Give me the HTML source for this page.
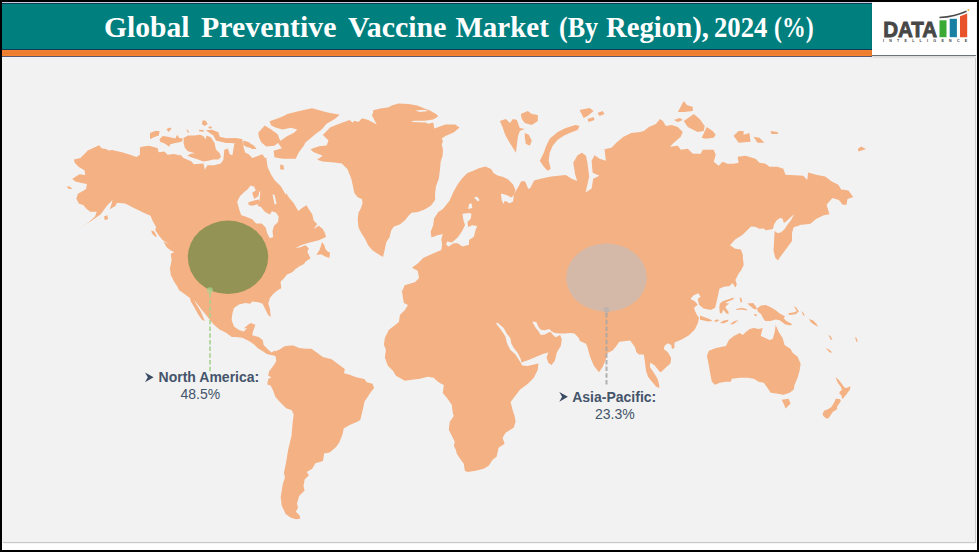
<!DOCTYPE html>
<html><head><meta charset="utf-8">
<style>
html,body{margin:0;padding:0;}
body{width:979px;height:552px;background:#000;position:relative;overflow:hidden;font-family:"Liberation Sans",sans-serif;}
#inner{position:absolute;left:2px;top:2px;width:975px;height:548px;background:#fff;}
#panel{position:absolute;left:2px;top:57px;width:973px;height:485px;background:#f2f2f2;box-shadow:1px 1px 1px #c8c8c8;}
#hdr{position:absolute;left:2px;top:3px;width:870px;height:47px;background:#007f7f;border-top:1px solid #0b3d5a;border-bottom:1px solid #0b3d5a;box-sizing:border-box;}
#stripe{position:absolute;left:2px;top:50px;width:870px;height:7px;background:linear-gradient(#f28232,#ec7d30 60%,#f9852e);border-bottom:1px solid #5a5a78;box-sizing:border-box;}
.tw{transform-origin:0 0;position:absolute;top:9.6px;font-family:"Liberation Serif",serif;font-weight:bold;font-size:29px;color:#fff;white-space:nowrap;line-height:34px;}
#logo{position:absolute;left:872px;top:2px;width:104px;height:54px;background:#fff;border-bottom:1px solid #6d747c;box-sizing:border-box;box-shadow:0 1px 2px rgba(0,0,0,0.2);}
svg{position:absolute;left:0;top:0;}
.lbl{position:absolute;color:#44546a;font-size:14px;line-height:16px;white-space:nowrap;}
.lbl b{font-weight:bold;}
</style></head><body>
<div id="inner"></div>
<div id="panel"></div>
<div style="position:absolute;left:2px;top:2px;width:870px;height:1px;background:#c9c9dc"></div>
<div id="hdr"></div>
<div id="stripe"></div>
<div class="tw" style="left:103.8px;transform:scaleX(1.02)">Global</div><div class="tw" style="left:201.4px;transform:scaleX(1.03)">Preventive</div><div class="tw" style="left:347.5px;transform:scaleX(1.03)">Vaccine</div><div class="tw" style="left:455.4px;transform:scaleX(1.0)">Market</div><div class="tw" style="left:559px;transform:scaleX(0.9)">(By</div><div class="tw" style="left:605.7px;transform:scaleX(0.99)">Region),</div><div class="tw" style="left:713.8px;transform:scaleX(0.92)">2024</div><div class="tw" style="left:774.3px;transform:scaleX(0.82)">(%)</div>
<div id="logo"></div>
<svg width="979" height="552" viewBox="0 0 979 552" style="position:absolute;left:0;top:0">
<text x="883.2" y="37.1" font-family="Liberation Sans" font-weight="bold" font-size="22" fill="#474747" stroke="#474747" stroke-width="0.9" textLength="54" lengthAdjust="spacingAndGlyphs">DATA</text>
<rect x="939.5" y="20.3" width="7" height="16.9" fill="#3aaa35"/>
<rect x="949.7" y="18.8" width="7.2" height="18.4" fill="#1a80a3"/>
<path d="M960,16.2 L967.2,13.4 L967.2,37.2 L960,37.2Z" fill="#e9532b"/>
<path d="M939.5,17.6 Q955,16.5 966.5,11.2" stroke="#4a4a4a" stroke-width="1.5" fill="none"/>
<circle cx="968.4" cy="9.9" r="1" fill="#f5b041"/>
<text x="882.9" y="42.4" font-family="Liberation Sans" font-weight="bold" font-size="3.6" fill="#404040" textLength="84.3" lengthAdjust="spacing">INTELLIGENCE</text>
</svg>

<svg id="map" width="979" height="552" viewBox="0 0 979 552">
<g fill="#f4b183" id="land">
<path d="M79.6,228.0 88.5,222.3 95.1,216.6 96.7,211.7 90.2,211.7 86.1,208.5 83.6,205.2 78.8,203.6 76.3,198.7 77.9,193.8 82.0,191.4 86.1,188.9 86.9,184.0 82.8,183.2 75.5,181.6 72.2,179.1 75.5,176.7 79.6,174.2 85.3,175.1 84.5,170.2 78.8,166.9 74.7,162.8 73.9,159.6 80.4,157.9 84.5,153.9 87.7,150.6 92.6,148.2 99.1,145.2 101.6,148.2 105.7,149.0 108.9,150.6 112.2,150.1 116.3,151.1 122.0,152.2 130.1,154.7 136.6,157.1 139.9,154.7 139.9,147.3 144.8,146.2 148.9,145.7 154.6,147.3 157.8,148.2 158.6,152.2 164.4,151.4 167.6,154.7 174.1,153.9 180.0,155.5 179.9,154.3 183.5,157.9 191.7,161.6 193.5,164.3 203.5,163.4 204.9,169.7 207.4,165.2 214.3,165.2 220.7,163.4 223.4,159.8 224.3,149.8 227.9,148.5 229.7,154.3 232.4,155.2 234.2,144.4 239.7,139.8 242.4,139.8 243.3,146.2 245.1,152.5 248.7,154.3 252.3,157.9 257.8,156.1 262.3,154.3 265.0,157.9 267.7,157.9 259.8,155.2 266.3,157.5 267.6,167.0 270.9,174.3 274.5,180.0 281.0,186.5 285.9,195.0 286.1,193.0 289.3,197.9 293.4,202.8 298.3,211.0 302.4,207.7 306.5,205.3 308.9,209.3 312.2,214.2 313.8,220.8 317.1,224.0 313.8,228.9 318.7,225.7 322.8,228.9 325.2,233.8 326.0,237.1 318.7,240.3 308.9,242.8 300.8,245.2 295.1,248.5 300.8,246.9 305.7,245.2 308.9,248.5 307.3,251.7 308.9,255.0 310.5,258.3 305.7,261.5 304.0,264.0 299.1,266.4 294.2,270.0 294.4,270.4 291.1,272.8 287.0,274.5 283.8,278.5 280.5,281.8 281.3,288.3 278.0,289.9 273.2,294.0 269.9,298.1 268.3,303.8 269.9,308.7 270.7,316.9 268.3,315.2 265.8,310.3 262.6,303.8 258.5,302.2 252.0,301.4 250.3,303.8 245.4,303.0 238.9,304.6 234.0,307.9 232.4,313.6 231.6,320.1 234.0,326.6 238.9,329.9 243.8,331.5 247.1,328.3 244.0,328.3 248.1,324.7 250.5,323.0 255.4,324.7 253.0,331.2 252.2,335.3 258.7,336.9 262.8,340.2 263.6,345.1 268.5,349.9 271.7,352.4 274.2,350.8 275.5,351.2 279.6,349.6 284.5,346.3 290.2,345.5 293.4,345.5 299.1,347.9 306.5,348.8 311.4,348.8 317.1,352.8 322.8,356.9 331.7,359.3 338.3,364.2 344.8,369.1 344.0,373.2 349.7,374.8 356.2,377.3 364.4,378.9 366.8,382.2 372.5,383.8 374.1,387.9 370.9,392.0 367.6,396.9 364.4,401.7 363.5,406.6 361.9,413.2 360.3,420.0 356.7,422.0 349.1,425.2 343.7,428.5 342.6,433.9 339.3,442.6 336.1,447.0 329.6,452.4 324.1,453.5 323.0,461.1 315.4,463.3 312.2,468.7 306.7,472.0 308.9,475.2 304.6,479.6 303.5,486.1 304.6,490.4 299.1,495.9 297.0,503.5 298.0,507.8 295.9,511.7 299.6,515.4 300.2,518.7 295.9,519.3 290.4,517.6 285.7,513.9 281.7,505.7 280.7,497.0 282.8,483.9 285.0,477.4 283.9,473.0 286.1,462.2 288.3,449.1 291.5,436.1 292.6,423.0 293.7,414.3 291.5,410.0 286.1,408.3 279.6,401.7 275.5,396.9 273.0,390.3 270.6,385.4 267.3,384.6 268.2,378.9 271.4,377.3 268.2,375.7 269.0,371.6 273.9,365.1 276.3,361.0 275.5,356.1 270.1,354.8 266.9,354.0 262.0,350.8 257.9,348.3 253.8,344.2 248.9,341.0 242.4,337.7 235.9,336.9 231.8,336.9 226.1,332.8 219.6,329.6 213.9,324.7 209.8,319.8 204.9,313.3 202.4,310.0 207.9,318.5 203.9,312.8 199.0,306.3 194.1,299.7 196.5,304.6 200.6,311.1 204.7,320.9 202.2,320.1 198.2,314.4 194.1,307.1 190.8,301.4 190.0,298.1 178.9,290.0 177.3,286.4 174.0,281.5 170.8,275.0 169.9,268.5 171.6,260.3 170.8,253.8 174.0,252.2 172.4,247.3 167.5,243.2 162.6,239.9 158.5,235.1 155.3,230.2 156.1,226.9 152.8,221.2 150.5,215.8 143.2,212.6 133.4,207.7 125.2,203.6 117.1,202.8 115.4,206.0 109.7,209.3 111.4,204.4 112.5,200.0 107.3,205.2 100.8,214.2 92.6,219.9ZM322.8,134.9 330.4,127.3 339.9,123.5 349.8,120.1 352.3,122.5 354.7,120.7 358.4,121.9 362.1,118.2 368.2,120.1 373.1,122.5 376.8,124.4 374.3,120.1 371.9,115.2 373.1,112.7 373.1,110.3 380.5,108.4 389.0,107.2 391.5,105.4 398.8,103.5 408.6,104.1 417.2,105.4 425.8,109.0 429.5,110.3 436.8,114.5 438.1,116.4 433.2,119.5 424.6,120.7 413.5,120.7 411.1,121.9 425.8,122.5 428.3,123.7 433.2,122.5 434.4,128.6 445.4,124.4 455.2,124.4 459.5,127.4 454.0,132.3 445.4,136.0 441.7,138.5 443.0,140.9 441.7,144.6 443.0,149.5 442.6,155.8 440.7,161.6 439.8,171.1 438.8,178.7 436.0,186.3 435.0,193.9 435.2,199.8 431.1,205.5 424.6,209.6 418.0,212.0 411.5,212.8 408.3,216.1 405.0,220.2 400.1,224.2 393.6,226.7 391.1,230.8 389.5,237.3 386.3,242.2 384.6,250.3 383.0,256.9 377.3,253.6 372.4,250.3 368.3,245.4 365.1,238.9 361.0,232.4 358.5,227.5 357.7,219.3 358.5,212.8 361.0,207.9 362.6,203.0 361.8,199.0 357.7,197.3 354.5,193.3 354.2,192.0 351.3,178.7 347.5,169.2 341.8,163.5 334.2,162.5 322.8,161.6 317.1,159.7 322.8,155.8 313.3,152.0 310.5,149.2 319.0,146.3 326.6,145.4 328.5,140.6 324.7,136.8ZM565.7,175.1 571.7,178.7 577.2,181.1 575.2,174.7 573.2,162.7 577.6,155.2 582.0,152.8 586.0,155.8 587.6,163.7 589.2,176.7 585.6,192.6 591.6,188.6 593.2,178.7 599.5,175.7 592.6,172.7 591.6,160.8 594.6,155.2 599.5,158.8 605.9,160.8 604.5,149.2 611.5,147.8 616.5,142.4 623.5,136.8 631.4,132.9 640.0,131.9 643.9,130.9 648.9,126.9 655.9,123.9 659.9,118.9 662.9,120.9 665.9,125.9 671.8,124.9 677.8,126.9 682.8,131.9 680.8,136.8 673.8,142.8 669.8,146.8 677.8,145.8 680.8,149.8 687.8,148.8 692.8,153.8 700.7,153.8 702.7,149.8 713.7,149.8 715.7,154.8 713.7,161.7 718.7,165.7 722.6,161.7 727.6,163.7 733.6,163.7 738.6,162.7 737.6,156.8 745.6,155.8 755.5,158.8 759.5,162.7 765.5,163.7 769.5,166.7 777.4,166.7 783.4,168.7 785.4,174.7 803.2,175.8 807.3,179.9 808.1,172.6 817.1,175.0 825.2,176.6 831.7,181.5 838.3,184.8 841.5,190.0 842.7,189.5 848.4,190.4 853.2,197.1 847.5,199.0 846.5,204.7 842.7,204.7 838.9,199.9 832.3,198.0 826.6,204.7 829.4,214.2 823.7,215.2 816.1,219.0 810.4,223.7 802.8,224.7 801.7,224.6 798.5,225.7 793.6,227.3 792.0,233.3 792.0,240.9 789.8,244.1 786.5,248.5 783.3,252.8 780.0,257.2 777.8,260.4 775.1,257.2 773.5,250.7 774.0,243.0 774.6,231.1 777.8,233.3 781.1,232.2 784.3,229.5 787.6,224.6 790.9,220.2 794.1,214.2 790.9,217.0 786.5,221.3 783.8,222.9 782.7,219.1 780.5,217.8 776.7,220.2 774.0,224.6 772.9,228.9 770.2,229.5 765.9,230.2 763.7,228.4 759.3,228.7 755.0,226.7 751.0,226.4 746.7,230.7 742.3,235.1 735.1,239.4 730.0,245.2 735.1,248.8 740.9,249.6 743.0,255.4 742.8,257.3 743.7,264.9 740.9,270.7 739.0,272.9 735.4,280.1 736.8,284.5 735.4,287.4 732.5,283.0 729.6,285.9 723.8,286.7 719.4,288.8 718.0,295.4 716.5,301.9 715.1,307.7 710.7,309.9 703.5,308.4 699.1,304.8 697.7,299.0 700.6,296.8 698.4,293.2 693.3,295.4 690.4,299.0 694.8,301.2 697.7,304.8 694.1,307.7 694.8,310.6 697.0,314.9 699.1,317.8 697.7,323.6 694.8,329.4 689.0,335.2 681.7,339.6 674.5,342.5 674.4,348.1 672.0,348.9 671.2,344.9 667.9,343.2 664.6,345.7 663.8,348.9 667.9,352.2 671.2,357.9 670.4,363.6 666.3,366.9 661.4,371.8 660.1,372.3 654.7,365.5 650.3,362.4 649.9,366.9 654.0,373.0 657.4,378.4 659.0,383.9 659.4,387.9 656.3,386.8 652.0,381.8 648.2,377.1 646.2,371.6 645.4,366.2 644.9,361.4 643.8,354.6 639.0,354.6 636.3,351.9 635.0,347.2 630.2,340.4 619.3,341.7 616.0,346.5 612.6,350.6 607.1,353.3 605.8,359.4 603.0,366.2 599.0,372.3 594.2,366.2 592.9,363.5 590.1,356.7 587.4,347.2 586.1,343.8 579.9,341.1 578.6,337.7 574.5,333.6 570.4,332.9 564.6,333.5 560.2,333.5 554.8,332.9 551.5,331.3 549.3,329.1 545.0,330.2 540.7,329.7 538.5,327.0 536.3,322.1 532.5,321.5 533.0,323.2 535.8,328.0 538.5,331.3 540.7,335.1 545.0,334.6 548.3,332.4 550.4,331.8 553.7,335.7 555.9,337.3 560.2,335.1 561.8,339.5 560.8,346.0 557.0,352.0 554.8,360.7 551.5,365.0 548.3,362.8 546.6,357.4 548.3,352.5 542.8,354.1 536.3,356.8 529.8,359.6 523.3,361.7 521.6,362.8 520.5,358.5 517.8,353.0 513.5,347.6 511.3,343.3 510.2,337.8 507.0,334.0 503.7,328.0 497.2,322.6 496.1,323.5 500.4,329.1 505.3,336.2 507.0,343.3 510.2,349.8 515.7,354.7 519.5,360.7 522.2,365.5 527.6,366.1 538.5,363.4 537.8,369.8 533.8,377.7 527.9,383.7 519.9,389.7 510.6,401.9 512.6,409.9 514.6,415.9 515.6,421.8 513.6,427.8 505.6,432.8 502.6,437.8 504.6,443.8 498.6,447.7 496.6,456.7 492.6,459.7 488.7,465.7 483.7,468.7 475.7,470.7 467.7,472.1 464.8,470.7 463.8,463.7 460.8,459.7 456.8,453.7 455.8,449.7 453.8,445.8 454.8,441.8 452.8,437.8 448.8,429.8 449.8,421.8 453.8,415.9 452.8,412.9 451.8,404.9 447.8,398.9 442.8,393.0 443.8,385.0 439.8,383.0 435.9,380.0 433.8,377.7 427.8,376.7 419.8,378.7 411.8,379.7 404.9,380.7 395.9,375.7 392.9,370.7 387.9,365.7 384.9,357.7 385.9,349.8 383.9,344.8 384.9,337.8 388.9,329.8 393.9,325.9 398.9,321.9 399.9,314.9 404.9,309.9 407.9,304.9 403.9,303.0 402.9,298.0 401.9,290.0 401.7,292.5 404.6,285.2 414.8,282.3 419.1,278.0 417.7,270.7 411.9,267.8 417.7,263.5 423.5,257.7 433.6,253.3 441.3,250.0 442.1,244.8 441.3,239.1 442.9,234.2 438.1,235.0 431.5,237.5 430.7,231.8 433.2,225.3 434.0,218.7 438.1,212.2 442.9,208.9 446.2,204.9 449.5,200.8 453.5,191.8 457.6,184.5 461.7,178.8 467.4,173.1 473.9,170.6 478.8,168.2 485.4,166.5 491.1,169.0 493.5,173.1 497.6,175.5 503.3,177.1 508.2,179.6 513.1,184.5 515.5,190.2 513.9,194.3 518.8,186.1 521.2,181.2 525.0,181.2 528.4,189.0 530.3,188.0 534.1,180.4 541.7,178.5 551.3,176.6ZM159.5,139.2 162.7,136.1 167.7,136.7 175.3,138.6 177.2,134.8 179.2,138.0 183.0,138.6 181.7,141.8 175.3,143.0 170.3,144.3 169.0,146.8 165.2,143.7 160.1,141.8ZM150.0,132.9 155.1,131.0 159.5,131.0 158.9,135.4 153.8,137.3 150.0,139.2ZM183.6,138.0 188.0,135.4 194.4,135.4 200.1,134.8 203.2,136.1 205.8,139.2 206.4,135.4 210.8,137.3 214.6,143.0 215.9,149.4 219.7,153.2 221.0,157.0 218.4,159.5 213.4,159.5 208.3,160.8 203.2,161.4 198.2,159.5 191.8,157.6 187.4,155.7 190.6,153.8 195.0,153.2 188.0,151.3 184.9,148.1 183.6,143.0ZM166.5,129.1 170.3,127.6 171.5,129.1 168.4,131.9ZM186.5,129.3 188.0,130.3 189.3,132.6 187.4,132.2ZM202.6,120.2 205.8,120.8 207.7,124.0 204.5,125.9 202.0,124.0ZM208.3,126.8 211.5,126.5 212.1,128.2 208.9,128.4ZM198.8,129.7 203.2,130.1 204.5,131.6 199.4,131.4ZM205.8,130.3 212.1,129.7 218.4,132.2 219.7,136.7 226.0,138.2 236.2,138.0 242.5,139.2 241.3,144.3 236.2,143.7 231.1,143.0 226.0,143.0 221.0,141.8 215.9,140.5 213.4,135.4 209.6,132.9ZM243.2,140.5 247.6,141.8 250.0,143.0 250.0,147.5 246.3,146.8 243.8,144.3ZM243.3,140.7 248.7,142.5 255.1,147.1 254.2,148.9 246.9,147.1 243.3,145.3ZM269.6,121.3 276.1,118.9 282.6,116.4 287.5,114.0 297.3,111.5 303.8,109.9 312.0,108.3 318.5,109.9 326.6,112.3 339.7,114.8 334.8,118.9 326.6,123.8 321.7,129.5 315.2,134.3 310.3,138.4 305.4,142.5 303.8,145.8 298.9,152.3 295.7,158.8 282.6,158.8 274.5,157.2 273.6,150.7 281.8,148.2 277.7,142.5 282.6,139.2 287.5,136.0 294.0,132.7 297.3,129.5 290.8,127.8 282.6,129.5 276.1,127.8 271.2,125.4ZM258.2,132.7 264.7,125.4 271.2,129.5 277.7,134.3 280.2,140.9 274.5,145.8 266.3,146.6 261.4,142.5 259.0,137.6ZM250.0,143.3 254.1,145.8 256.5,149.0 251.6,149.0ZM280.2,164.5 283.4,165.3 284.2,169.4 280.2,169.4ZM66.5,186.5 69.8,186.5 72.2,188.9 69.0,188.9ZM104.0,216.6 107.3,215.3 108.1,219.1 104.8,220.2ZM151.2,230.2 154.5,231.8 156.9,236.7 155.3,236.7 152.0,233.4ZM163.4,241.6 168.3,244.0 173.2,248.1 174.8,252.2 170.8,250.5 166.7,247.3ZM322.0,242.0 324.4,245.2 325.2,248.5 327.7,251.7 330.1,252.6 329.3,257.9 325.2,256.6 321.1,254.2 316.3,255.0 319.5,250.1 321.1,245.2ZM499.9,120.9 505.9,118.9 509.9,122.9 512.9,118.9 516.9,119.9 519.8,127.9 524.8,128.9 519.8,130.9 517.9,136.8 516.9,144.8 515.9,152.8 510.9,144.8 507.9,139.8 504.9,133.9 502.9,127.9ZM520.8,113.9 527.8,110.9 531.8,113.9 537.8,114.9 537.8,120.9 531.8,124.9 524.8,122.9 521.8,118.9ZM524.8,132.9 528.8,134.8 531.8,140.8 529.8,145.8 525.8,143.8 524.8,137.8ZM539.8,160.8 543.8,152.8 545.8,146.8 549.7,138.8 557.7,131.9 565.7,127.9 575.6,124.9 579.6,125.9 577.6,129.9 569.7,132.9 563.7,135.8 557.7,139.8 552.7,145.8 549.7,152.8 548.7,160.8 550.7,168.7 547.7,170.7 543.8,166.7ZM579.6,109.9 589.6,108.0 593.6,110.9 587.6,115.9 583.6,117.9ZM587.6,118.9 593.6,116.9 594.6,119.9 588.6,121.9ZM597.6,112.9 602.5,110.9 604.5,113.9 599.5,115.9ZM677.8,111.9 683.8,101.0 686.8,105.0 692.8,107.0 692.8,110.9 683.8,111.9ZM683.8,120.9 693.8,113.9 699.7,118.9 704.7,125.9 703.7,130.9 697.7,131.9 687.8,126.9ZM701.7,137.8 706.7,126.9 712.7,130.9 715.7,134.8 713.7,137.8 705.7,138.8ZM673.8,119.9 679.8,117.9 682.8,119.9 677.8,121.9ZM733.6,135.8 738.6,130.9 743.6,130.9 743.6,134.8 749.5,132.9 750.5,141.8 738.6,142.8ZM753.5,136.8 759.5,137.8 764.5,142.8 757.5,142.8ZM770.5,130.9 777.4,131.9 778.4,133.9 771.5,133.9ZM857.8,148.9 861.1,146.5 866.0,148.9 858.6,151.4ZM706.9,355.8 708.9,350.8 715.9,347.9 725.9,345.9 728.9,339.9 733.8,335.9 739.8,332.9 742.8,334.9 745.8,331.9 749.8,328.9 753.8,327.9 758.7,328.9 762.7,327.9 760.7,335.9 769.7,339.9 772.7,338.9 774.7,331.9 775.7,324.9 778.7,331.9 782.6,337.9 784.6,344.9 790.6,348.9 792.6,352.8 797.6,356.8 800.6,363.8 799.6,370.8 797.6,377.7 794.6,384.7 793.6,389.7 789.6,392.7 783.6,394.7 777.7,393.7 770.7,392.7 766.7,386.7 763.7,382.7 758.7,381.7 753.8,378.7 747.8,377.7 739.8,377.7 731.8,378.7 730.8,381.7 725.9,381.7 719.9,382.7 714.9,384.7 711.9,381.7 709.9,371.8 708.9,365.8 707.9,360.8ZM781.7,399.7 788.6,398.7 790.6,403.6 785.6,408.6 783.6,403.6ZM835.4,377.0 838.9,380.0 841.9,383.9 844.9,387.9 847.9,387.4 850.4,385.9 849.9,389.9 847.9,391.9 846.9,393.9 844.9,395.9 842.9,398.9 841.9,397.9 841.4,394.9 839.4,393.9 839.9,391.4 841.9,389.9 840.9,386.9 837.9,382.9ZM835.9,398.4 837.9,398.9 839.9,398.9 840.9,400.9 838.9,403.9 836.9,406.9 837.4,408.8 834.9,410.8 832.9,411.8 830.9,414.8 828.9,417.8 827.0,418.8 824.0,416.8 822.5,414.3 824.0,410.8 827.9,409.3 831.4,406.9 834.4,401.9ZM828.5,334.9 830.5,335.9 832.5,339.9 830.5,339.5ZM825.5,347.9 829.5,349.8 832.5,352.8 829.5,352.2ZM719.9,303.6 723.2,300.9 729.2,298.9 733.9,297.6 733.2,299.6 727.9,301.6 725.2,302.9 729.2,303.6 726.6,305.6 725.2,307.6 728.5,311.6 728.5,314.2 725.9,312.9 723.2,309.6 721.9,313.5 719.9,312.9 719.3,307.6ZM739.6,297.2 741.4,298.3 742.2,302.3 740.5,302.3ZM747.1,303.6 753.1,302.9 755.8,306.2 757.1,309.6 753.8,308.9 750.5,306.2ZM757.1,308.2 761.1,305.6 765.7,304.9 770.4,306.9 775.7,310.2 779.7,313.5 785.0,316.2 783.7,318.2 786.3,320.9 792.3,324.2 790.3,325.5 785.0,324.2 779.7,320.2 775.7,319.5 770.4,320.9 765.1,320.9 763.1,318.2 761.1,314.2 757.8,311.6ZM700.0,315.5 705.3,317.5 710.6,319.5 712.6,320.9 708.0,321.5 702.7,320.2 700.0,319.8ZM713.9,320.9 717.3,319.3 719.3,320.6 715.9,321.9ZM719.9,322.8 723.9,320.6 728.5,319.8 727.9,321.5 723.2,323.5ZM729.9,324.2 734.5,320.9 738.5,320.2 733.2,324.2ZM735.9,309.2 741.2,307.8 746.5,308.9 747.1,310.5 741.2,309.6 736.5,310.0ZM754.4,313.9 756.8,314.2 756.4,316.2 754.7,315.9ZM793.6,306.2 796.3,307.6 798.9,311.6 795.6,314.2 789.0,314.9 788.3,313.2 794.3,312.2 796.9,310.9ZM801.6,310.9 803.6,312.9 804.9,316.2 802.9,314.9ZM808.9,318.9 812.9,320.2 816.2,323.5 818.2,326.8 814.2,324.8 810.9,322.2ZM855.0,336.9 856.6,337.9 857.8,341.9 856.2,341.5Z"/>
<path fill="#f2f2f2" d="M250.8,185.4 254.2,186.7 255.6,190.1 260.3,191.5 259.6,200.3 259.0,202.4 257.6,205.7 261.0,207.1 265.1,211.9 269.8,214.6 271.9,211.2 275.9,212.5 278.7,216.6 278.0,222.0 273.9,226.1 272.5,231.6 273.2,237.0 269.8,238.3 267.1,232.9 265.7,227.5 261.7,223.4 256.2,223.4 252.2,219.3 245.4,216.6 241.3,215.3 239.3,209.8 237.2,201.7 239.9,196.2 244.0,192.2 247.4,189.4ZM272.5,194.2 274.6,194.9 276.6,203.7 274.6,204.4ZM415.4,110.5 424.6,109.8 428.5,111.0 419.7,112.0ZM462.5,213.8 469.0,213.0 471.5,213.8 470.7,218.7 467.4,222.0 468.2,226.9 472.3,225.3 477.2,226.1 475.6,230.1 473.9,236.7 469.0,239.9 469.0,244.8 462.5,246.5 457.6,243.2 453.5,243.2 448.7,246.5 446.2,244.8 447.0,241.6 451.9,242.4 457.6,237.5 461.7,231.8 465.0,225.3 463.3,219.5ZM473.9,197.5 477.2,196.7 479.6,200.0 478.0,201.6ZM469.0,204.0 471.5,203.2 472.3,208.1 468.2,208.9ZM500.9,193.4 506.6,195.1 511.5,197.5 513.9,195.1 513.1,201.6 509.8,203.2 504.9,200.8 503.3,204.0 501.7,200.0Z"/>
<path d="M252.2,192.8 256.2,190.1 259.6,190.8 258.3,196.2 254.2,199.0ZM248.1,202.4 254.9,200.3 259.0,199.6 259.6,203.7 252.2,205.7 248.8,205.1Z"/>
</g>
<g id="bubbles">
<line x1="210" y1="293" x2="210" y2="372" stroke="#a9d18e" stroke-opacity="0.8" stroke-width="2" stroke-dasharray="4.5,2.2"/>
<ellipse cx="228" cy="257.3" rx="40.2" ry="36.7" fill="#929354"/>
<circle cx="209.9" cy="290.3" r="3" fill="#a9d18e" fill-opacity="0.75"/>
<line x1="606.5" y1="313" x2="606.5" y2="386" stroke="#a6a6a6" stroke-opacity="0.85" stroke-width="2" stroke-dasharray="4.5,2.2"/>
<ellipse cx="606.5" cy="277.6" rx="40.3" ry="34.1" fill="#d4b9a9"/>
<circle cx="606.5" cy="310" r="3" fill="#bfb4ad"/>
</g>
<g fill="#3b4a63">
<path d="M145,372.4 L153.6,377.3 L145,382.2 L147.8,377.3Z"/>
<path d="M559.3,391.9 L567.9,396.8 L559.3,401.7 L562.1,396.8Z"/>
</g>
</svg>
<div class="lbl" style="left:158.6px;top:369.35px;"><b>North America:</b></div>
<div class="lbl" style="left:180.5px;top:386.45px;">48.5%</div>
<div class="lbl" style="left:572.2px;top:388.85px;"><b>Asia-Pacific:</b></div>
<div class="lbl" style="left:595px;top:405.75px;">23.3%</div>
</body></html>
